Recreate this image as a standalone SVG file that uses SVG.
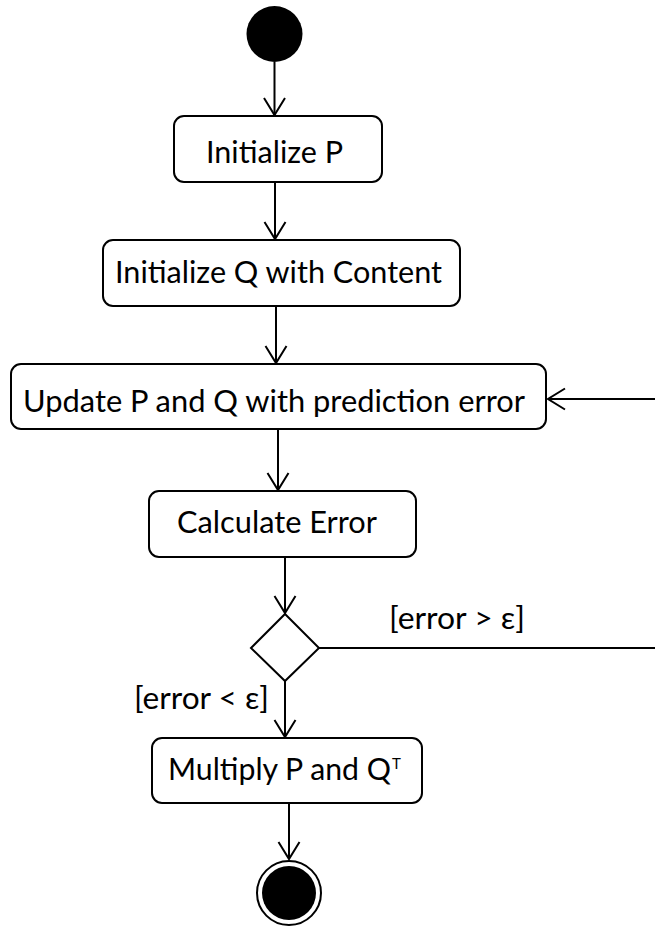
<svg xmlns="http://www.w3.org/2000/svg" width="655" height="929" viewBox="0 0 655 929">
  <style>
    .box { fill: #ffffff; stroke: #000000; stroke-width: 2; }
    .lbl { font-family: Lato, "Liberation Sans", sans-serif; font-size: 30.5px; fill: #000000; }
    .sup { font-family: Lato, "Liberation Sans", sans-serif; font-size: 15px; fill: #000000; }
    .edge { fill: none; stroke: #000000; stroke-width: 2; }
    .dot { fill: #000000; }
  </style>
  <defs>
    <marker id="open-arrow" markerUnits="userSpaceOnUse" viewBox="-20 -13 23 26" markerWidth="23" markerHeight="26" refX="0" refY="0" orient="auto" overflow="visible">
      <path d="M-17,-10.5 L0,0 L-17,10.5" fill="none" stroke="#000000" stroke-width="2"/>
    </marker>
  </defs>
  <rect width="655" height="929" fill="#ffffff"/>

  <!-- control flow -->
  <g id="connectors">
    <line class="edge" x1="274.5" y1="62" x2="274.5" y2="115" marker-end="url(#open-arrow)"/>
    <line class="edge" x1="275" y1="182" x2="275" y2="239" marker-end="url(#open-arrow)"/>
    <line class="edge" x1="276" y1="306" x2="276" y2="363" marker-end="url(#open-arrow)"/>
    <line class="edge" x1="278" y1="429" x2="278" y2="490" marker-end="url(#open-arrow)"/>
    <line class="edge" x1="285" y1="557" x2="285" y2="613" marker-end="url(#open-arrow)"/>
    <line class="edge" x1="285" y1="681" x2="285" y2="737" marker-end="url(#open-arrow)"/>
    <line class="edge" x1="289" y1="803" x2="289" y2="859" marker-end="url(#open-arrow)"/>
    <!-- loop back: error still too large -->
    <line class="edge" x1="319" y1="648" x2="655" y2="648"/>
    <line class="edge" x1="655" y1="399" x2="615" y2="399" stroke-width="1.8"/>
    <line class="edge" x1="615" y1="399" x2="548" y2="399" stroke-width="2.4" marker-end="url(#open-arrow)"/>
  </g>

  <g id="start">
    <circle class="dot" cx="274.5" cy="34" r="28"/>
  </g>

  <g id="init-p">
    <rect class="box" x="174" y="116" width="208" height="66" rx="10"/>
    <text class="lbl" x="206" y="163" textLength="137" lengthAdjust="spacingAndGlyphs">Initialize P</text>
  </g>

  <g id="init-q">
    <rect class="box" x="103" y="240" width="357" height="66" rx="10"/>
    <text class="lbl" x="115" y="283" textLength="327" lengthAdjust="spacingAndGlyphs">Initialize Q with Content</text>
  </g>

  <g id="update">
    <rect class="box" x="11" y="364" width="535" height="65" rx="10"/>
    <text class="lbl" x="23" y="412" textLength="502" lengthAdjust="spacingAndGlyphs">Update P and Q with prediction error</text>
  </g>

  <g id="calc-error">
    <rect class="box" x="149" y="491" width="267" height="66" rx="10"/>
    <text class="lbl" x="177" y="533" textLength="200" lengthAdjust="spacingAndGlyphs">Calculate Error</text>
  </g>

  <g id="decision">
    <polygon points="285,614 319,648 285,681 251,648" fill="#ffffff" stroke="#000000" stroke-width="2"/>
    <text class="lbl" x="389" y="629" textLength="136" lengthAdjust="spacingAndGlyphs">[error &gt; ε]</text>
    <text class="lbl" x="134" y="709" textLength="135" lengthAdjust="spacingAndGlyphs">[error &lt; ε]</text>
  </g>

  <g id="multiply">
    <rect class="box" x="152" y="738" width="270" height="65" rx="10"/>
    <text class="lbl" x="168" y="780" textLength="223" lengthAdjust="spacingAndGlyphs">Multiply P and Q</text>
    <text class="sup" x="392" y="769">T</text>
  </g>

  <g id="end">
    <circle cx="289" cy="893" r="32" fill="#ffffff" stroke="#000000" stroke-width="2"/>
    <circle class="dot" cx="289" cy="893" r="27"/>
  </g>
</svg>
